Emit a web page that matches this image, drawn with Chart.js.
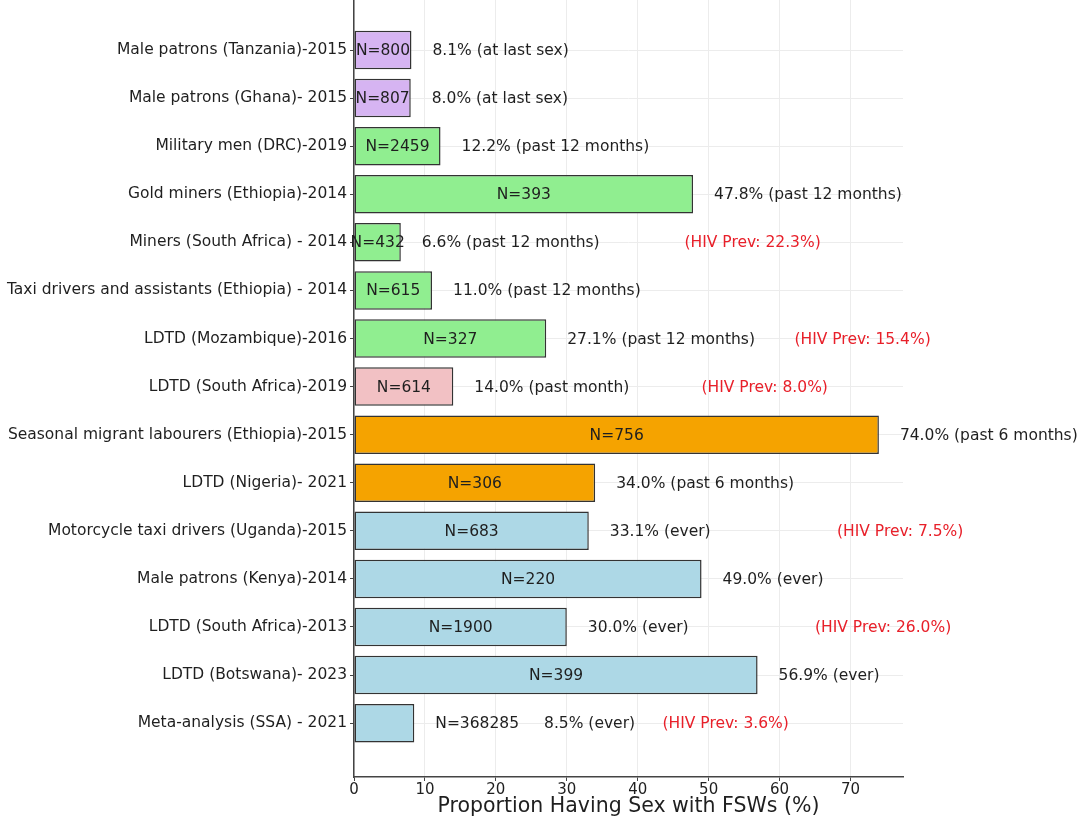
<!DOCTYPE html>
<html>
<head>
<meta charset="utf-8">
<script src="https://cdn.jsdelivr.net/npm/chart.js@4.4.1/dist/chart.umd.min.js"></script>
<style>
	html, body { margin: 0; padding: 0; background: #fff; overflow: hidden; }
	canvas { display: block; }
</style>
</head>
<body>
<canvas id="chart" width="1080" height="819"></canvas>
<script>
const categories = [
	"Male patrons (Tanzania)-2015",
	"Male patrons (Ghana)- 2015",
	"Military men (DRC)-2019",
	"Gold miners (Ethiopia)-2014",
	"Miners (South Africa) - 2014",
	"Taxi drivers and assistants (Ethiopia) - 2014",
	"LDTD (Mozambique)-2016",
	"LDTD (South Africa)-2019",
	"Seasonal migrant labourers (Ethiopia)-2015",
	"LDTD (Nigeria)- 2021",
	"Motorcycle taxi drivers (Uganda)-2015",
	"Male patrons (Kenya)-2014",
	"LDTD (South Africa)-2013",
	"LDTD (Botswana)- 2023",
	"Meta-analysis (SSA) - 2021",
];
const values = [8.1, 8.0, 12.2, 47.8, 6.6, 11.0, 27.1, 14.0, 74.0, 34.0, 33.1, 49.0, 30.0, 56.9, 8.5];
const sampleSizes = [800, 807, 2459, 393, 432, 615, 327, 614, 756, 306, 683, 220, 1900, 399, 368285];
const periods = [
	"at last sex", "at last sex",
	"past 12 months", "past 12 months", "past 12 months", "past 12 months", "past 12 months",
	"past month",
	"past 6 months", "past 6 months",
	"ever", "ever", "ever", "ever", "ever",
];
const hivPrev = [null, null, null, null, 22.3, null, 15.4, 8.0, null, null, 7.5, null, 26.0, null, 3.6];
const xTicks = [0, 10, 20, 30, 40, 50, 60, 70];

const periodColors = {
	"at last sex": "#d6b4f2",
	"past 12 months": "#90ee90",
	"past month": "#f2c1c4",
	"past 6 months": "#f5a300",
	"ever": "#add8e6",
};

const textColor = "#1f1f1f";
Chart.defaults.font.family = "'DejaVu Sans', sans-serif";
Chart.defaults.color = textColor;

// N=, percentage and HIV prevalence texts next to each bar
const annotations = {
	id: "annotations",
	afterDatasetsDraw(chart) {
		const c = chart.ctx;
		const xs = chart.scales.x;
		const bars = chart.getDatasetMeta(0).data;
		c.save();
		c.font = "15.5px 'DejaVu Sans', sans-serif";
		c.textBaseline = "middle";
		bars.forEach((bar, i) => {
			const y = bar.y + 1;
			const nText = "N=" + sampleSizes[i];
			const nWidth = c.measureText(nText).width;
			const barWidth = bar.x - bar.base;
			let pctX = bar.x + 21;
			c.fillStyle = textColor;
			if (nWidth > barWidth + 12) {
				c.textAlign = "left";
				c.fillText(nText, bar.x + 21, y);
				pctX = bar.x + 21 + nWidth + 25;
			} else {
				c.textAlign = "center";
				c.fillText(nText, (bar.x + bar.base) / 2, y);
			}
			c.textAlign = "left";
			c.fillText(values[i].toFixed(1) + "% (" + periods[i] + ")", pctX, y);
			if (hivPrev[i] !== null) {
				const offset = values[i] < 8 ? 40 : 35;
				c.fillStyle = "#e8202a";
				c.fillText("(HIV Prev: " + hivPrev[i].toFixed(1) + "%)", xs.getPixelForValue(values[i] + offset), y);
			}
		});
		c.restore();
	},
};

const ctx = document.getElementById("chart").getContext("2d");
const chart = new Chart(ctx, {
	type: "bar",
	data: {
		datasets: [
			{
				data: values.map((v, i) => ({ x: v, y: i })),
				backgroundColor: periods.map((p) => periodColors[p]),
				borderColor: "#333333",
				borderWidth: 1.5,
				borderSkipped: false,
				barPercentage: 0.8,
				categoryPercentage: 1,
			},
		],
	},
	options: {
		indexAxis: "y",
		responsive: false,
		animation: false,
		devicePixelRatio: 1,
		layout: {
			padding: { left: 0, right: 177, top: 0, bottom: 0 },
		},
		plugins: {
			legend: { display: false },
			tooltip: { enabled: false },
		},
		scales: {
			y: {
				type: "linear",
				reverse: true,
				offset: false,
				min: -1.04,
				max: 15.12,
				afterBuildTicks: (scale) => {
					scale.ticks = categories.map((_, i) => ({ value: i }));
				},
				afterFit: (scale) => {
					scale.width = 354;
					scale.paddingTop = 0;
					scale.paddingBottom = 0;
				},
				ticks: {
					callback: (v) => categories[v],
					font: { size: 15.5 },
					color: textColor,
					padding: 3,
					autoSkip: false,
				},
				grid: {
					offset: false,
					color: "#ececec",
					tickColor: "#444",
					tickLength: 4,
				},
				border: { color: "#444", width: 1.5 },
			},
			x: {
				type: "linear",
				min: 0,
				max: 77.4,
				afterBuildTicks: (scale) => {
					scale.ticks = xTicks.map((v) => ({ value: v }));
				},
				afterFit: (scale) => {
					scale.height = 42;
				},
				ticks: {
					font: { size: 15 },
					color: textColor,
					padding: 0,
				},
				grid: {
					color: "#ececec",
					tickColor: "#444",
					tickLength: 4,
				},
				border: { color: "#444", width: 1.5 },
				title: {
					display: true,
					text: "Proportion Having Sex with FSWs (%)",
					font: { size: 20.5 },
					color: textColor,
					padding: { top: 0, bottom: 0 },
				},
			},
		},
	},
	plugins: [annotations],
});
</script>
</body>
</html>
